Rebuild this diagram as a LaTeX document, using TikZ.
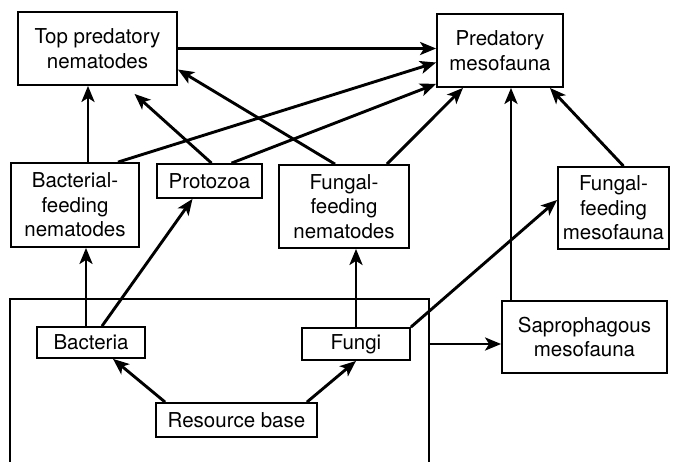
\documentclass[tikz,border=0pt]{standalone}
\usepackage{fontspec}
\setmainfont{TeX Gyre Heros}
\usepackage{tikz}
\usetikzlibrary{arrows.meta}
\usetikzlibrary{positioning}
\tikzstyle{box} = [rectangle, draw=black, line width=1.8pt, align=center, inner sep=0pt, font=\fontsize{20.5}{24.5}\selectfont]
\tikzstyle{arrow} = [line width=2.9pt, -{Stealth[length=16pt, width=13pt, inset=4pt]}]

\begin{document}
\begin{tikzpicture}[x=1pt, y=-1pt]

    \useasboundingbox (0,0) rectangle (682,461);
    \clip (0,0) rectangle (682,461);

    % top row
    \node (toppred) [box, minimum width=159pt, minimum height=73pt] at (97.5,48.5) {Top predatory\\nematodes};
    \node (predmeso) [box, minimum width=126pt, minimum height=73pt] at (500,50.5) {Predatory\\mesofauna};
    % middle row
    \node (bactnem) [box, minimum width=128pt, minimum height=84pt] at (75,205) {Bacterial-\\feeding\\nematodes};
    \node (protozoa) [box, minimum width=105pt, minimum height=34pt] at (209.5,181) {Protozoa};
    \node (fungnem) [box, minimum width=130pt, minimum height=83pt] at (344,206.5) {Fungal-\\feeding\\nematodes};
    \node (fungmeso) [box, minimum width=111pt, minimum height=82pt] at (613.5,208) {Fungal-\\feeding\\mesofauna};
    % resource base
    \node (resbox) [draw=black, line width=1.8pt, anchor=north west, minimum width=419pt, minimum height=180pt, inner sep=0pt] at (9,298) {};
    \node (bacteria) [box, minimum width=108pt, minimum height=31pt] at (91,342.5) {Bacteria};
    \node (fungi) [box, minimum width=108pt, minimum height=32pt] at (356,344) {Fungi};
    \node (resbase) [box, minimum width=161pt, minimum height=34pt] at (236.5,420) {Resource base};
    \node (sapro) [box, minimum width=165pt, minimum height=72pt] at (584.5,337) {Saprophagous\\mesofauna};

    \coordinate (pmin) at ([xshift=11pt]predmeso.south);

    \draw [arrow] (toppred.east) -- (toppred.east -| predmeso.west);
    \draw [arrow] ([xshift=43pt]bactnem.north) -- ([yshift=-12pt]predmeso.west);
    \draw [arrow] ([xshift=22pt]protozoa.north) -- ([yshift=4pt]predmeso.south west);
    \draw [arrow] ([xshift=-23pt]fungnem.north east) -- ([xshift=-37pt]predmeso.south);
    \draw [arrow] ([xshift=10pt]fungmeso.north) -- ([xshift=-14pt]predmeso.south east);
    \draw [arrow] (sapro.north -| pmin) -- (pmin);
    \draw [arrow] ([xshift=2pt]protozoa.north) -- ([xshift=37pt,yshift=-8pt]toppred.south);
    \draw [arrow] ([xshift=-9pt]fungnem.north) -- ([yshift=-21pt]toppred.east);
    \draw [arrow] ([xshift=13pt]bactnem.north) -- ([xshift=13pt]bactnem.north |- toppred.south);
    \draw [arrow] ([xshift=-5pt]bacteria.north) -- ([xshift=-5pt]bacteria.north |- bactnem.south);
    \draw [arrow] ([xshift=11pt]bacteria.north) -- ([xshift=-17pt]protozoa.south);
    \draw [arrow] (fungi.north) -- (fungi.north |- fungnem.south);
    \draw [arrow] (fungi.north east) -- ([yshift=8pt]fungmeso.west);
    \draw [arrow] (resbox.east |- fungi) -- (sapro.west |- fungi);
    \draw [arrow] ([xshift=10pt]resbase.north west) -- ([xshift=22pt]bacteria.south);
    \draw [arrow] ([xshift=-11pt]resbase.north east) -- (fungi.south);

\end{tikzpicture}
\end{document}
